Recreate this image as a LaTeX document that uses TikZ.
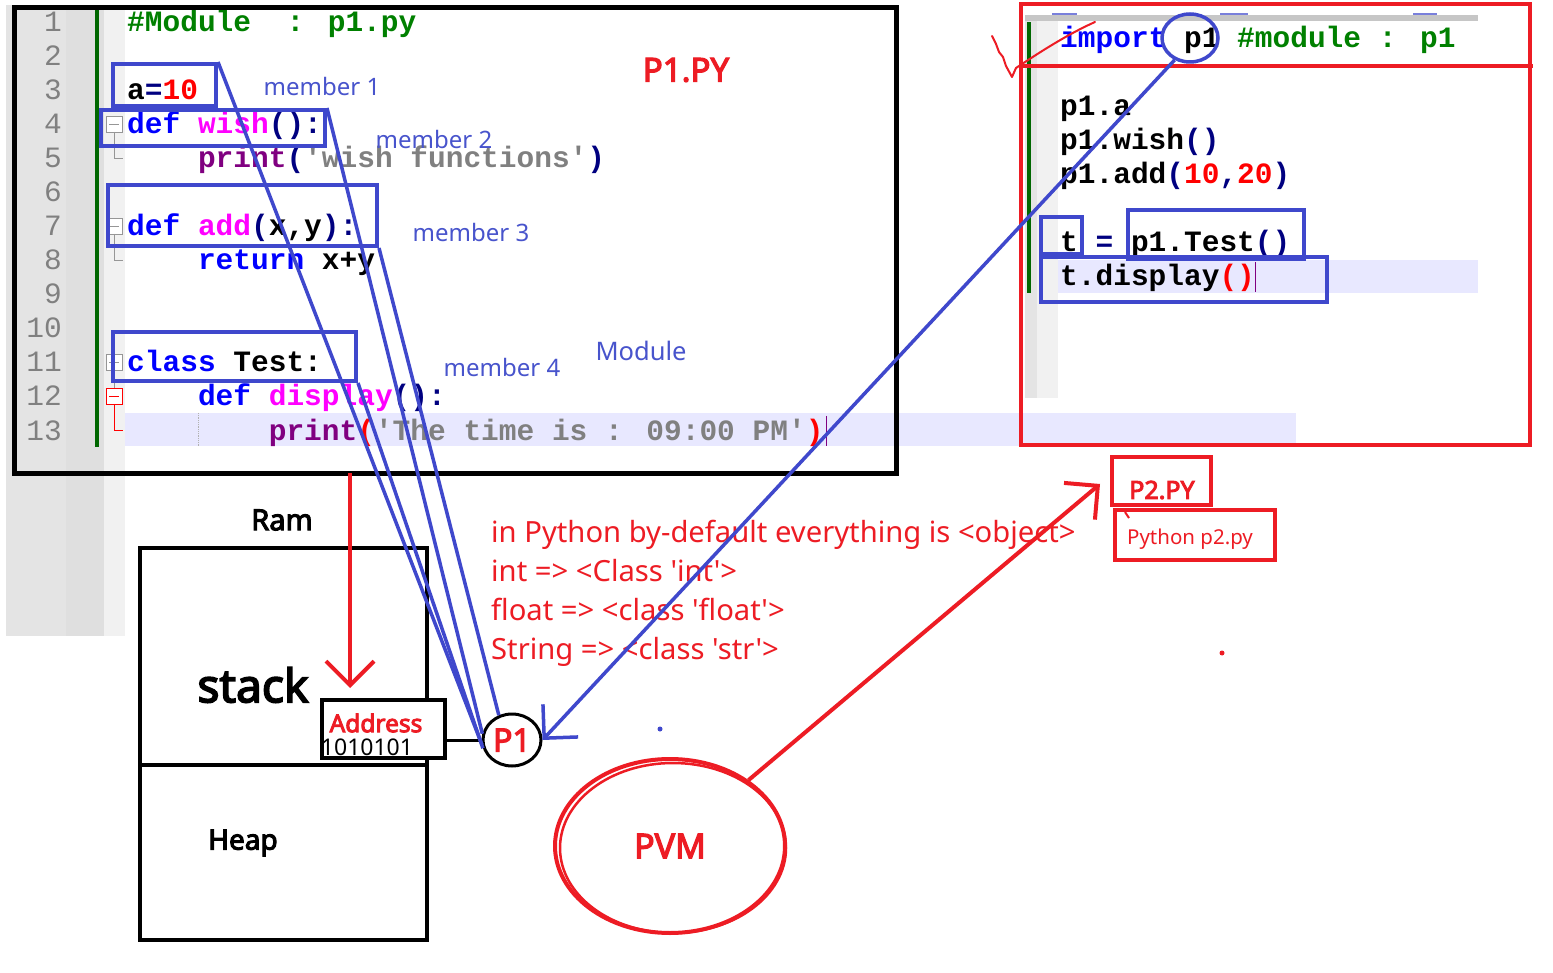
\documentclass[tikz,border=0pt]{standalone}
\usepackage{fontspec}
\setmainfont{Noto Sans}[Ligatures=TeXOff, AutoFakeBold=3.6]
\newfontfamily\codefont{Liberation Mono}[Ligatures=TeXOff]
\usetikzlibrary{arrows.meta,shapes.geometric,fit}
\definecolor{bbox}{RGB}{63,72,204}
\definecolor{blab}{RGB}{72,84,204}
\definecolor{pred}{RGB}{237,28,36}
\definecolor{cblue}{RGB}{0,0,255}
\definecolor{cmag}{RGB}{255,0,255}
\definecolor{cpur}{RGB}{128,0,128}
\definecolor{cnavy}{RGB}{0,0,128}
\definecolor{cgray}{RGB}{128,128,128}
\definecolor{cgreen}{RGB}{0,128,0}
\definecolor{cred}{RGB}{255,0,0}
\definecolor{lav}{RGB}{232,232,255}
\definecolor{gutA}{RGB}{228,228,228}
\definecolor{gutB}{RGB}{223,223,223}
\definecolor{gutC}{RGB}{241,241,241}
\definecolor{foldc}{RGB}{150,150,150}
\newcommand{\kwB}[1]{\textcolor{cblue}{#1}}
\newcommand{\kwM}[1]{\textcolor{cmag}{#1}}
\newcommand{\kwP}[1]{\textcolor{cpur}{#1}}
\newcommand{\kwN}[1]{\textcolor{cnavy}{#1}}
\newcommand{\kwG}[1]{\textcolor{cgray}{#1}}
\newcommand{\kwR}[1]{\textcolor{cred}{#1}}
\newcommand{\kwC}[1]{\textcolor{cgreen}{#1}}
\begin{document}
\begin{tikzpicture}[x=1pt,y=-1pt,
  code/.style={anchor=base west, inner sep=0pt, font=\codefont\bfseries\fontsize{29.5}{34}\selectfont},
  lnum/.style={anchor=base east, inner sep=0pt, text=cgray, font=\codefont\fontsize{29.5}{34}\selectfont},
  bluebx/.style={draw=bbox, line width=4pt, inner sep=0pt},
  redbx/.style={draw=pred, line width=4pt, inner sep=0pt},
  bluel/.style={draw=bbox, line width=3.5pt},
  redl/.style={draw=pred, line width=4pt},
  blabel/.style={text=blab, inner sep=0pt, font=\fontsize{24}{28}\selectfont},
  redtxt/.style={text=pred, anchor=base west, inner sep=0pt, font=\fontsize{29.2}{32}\selectfont},
  boldlab/.style={inner sep=0pt, font=\bfseries\fontsize{28}{32}\selectfont},
  foldbox/.style={draw=foldc, line width=0.8pt, fill=white},
  barb/.style={-{Straight Barb[length=24pt,width=48pt]}}
]
\useasboundingbox (0,0) rectangle (1553,973);
\fill[white] (0,0) rectangle (1553,973);
% ---------- left editor background
\fill[gutA] (6,5) rectangle (66,636);
\fill[gutB] (66,5) rectangle (104,636);
\fill[gutC] (104,5) rectangle (125,636);
\fill[lav] (125,413) rectangle (1296,446);
\fill[cgreen!80!black] (95,10) rectangle (99,447);
\draw[gray!60, densely dotted, line width=0.8pt] (198,413) -- (198,446);
% line numbers
\foreach \n in {1,...,13}{
  \node[lnum] at (62,{32+34*(\n-1)}) {\n};
}
% fold markers
\draw[foldbox] (106,116) rectangle (122,132);
\draw[foldc, line width=0.8pt] (109,124) -- (119,124) (114,132) -- (114,158) -- (123,158);
\draw[foldbox] (106,218) rectangle (122,234);
\draw[foldc, line width=0.8pt] (109,226) -- (119,226) (114,234) -- (114,260) -- (123,260);
\draw[foldbox] (106,354) rectangle (122,370);
\draw[foldc, line width=0.8pt] (109,362) -- (119,362) (114,370) -- (114,388);
\draw[draw=cred, line width=0.8pt, fill=white] (106,388) rectangle (122,404);
\draw[cred, line width=0.8pt] (109,396) -- (119,396) (114,404) -- (114,430) -- (123,430);
% code
\node[code] (l1) at (127,32) {\kwC{\#Module~~: p1.py}};
\node[code] (l3) at (127,100) {a\kwN{=}\kwR{10}};
\node[code] (l4) at (127,134) {\kwB{def} \kwM{wish}\kwN{():}};
\node[code] (l5) at (197.8,168) {\kwP{print}\kwN{(}\kwG{'wish functions'}\kwN{)}};
\node[code] (l7) at (127,236) {\kwB{def} \kwM{add}\kwN{(}x,y\kwN{):}};
\node[code] (l8) at (197.8,270) {\kwB{return} x+y};
\node[code] (l11) at (127,372) {\kwB{class} Test:};
\node[code] (l12) at (197.8,406) {\kwB{def} \kwM{display}\kwN{():}};
\node[code] (l13) at (268.6,440) {\kwP{print}\kwR{(}\kwG{'The time is : 09:00 PM'}\kwR{)}};
\draw[cpur, line width=1pt] (826,416) -- (826,446);
% frame
\draw[line width=5pt] (14.5,8) rectangle (896.5,473.5);
% ---------- right editor
\fill[gutA] (1025,20) rectangle (1037,398);
\fill[gutC] (1037,20) rectangle (1058,398);
\fill[gray!45] (1025,15) rectangle (1478,21);
\draw[bbox!70, line width=1.2pt] (1052,14) -- (1077,14) (1220,14) -- (1248,14) (1413,14) -- (1437,14);
\fill[lav] (1058,260) rectangle (1478,293);
\fill[cgreen!80!black] (1027,22) rectangle (1031,293);
\node[code] (r1) at (1060,48) {\kwB{import} p1 \kwC{\#module : p1}};
\node[code] (r3) at (1060,116) {p1.a};
\node[code] (r4) at (1060,150) {p1.wish\kwN{()}};
\node[code] (r5) at (1060,184) {p1.add\kwN{(}\kwR{10}\kwN{,}\kwR{20}\kwN{)}};
\node[code] (r7) at (1060,252) {t \kwN{=} p1.Test\kwN{()}};
\node[code] (r8) at (1060,286) {t.display\kwR{()}};
\draw[cpur, line width=1pt] (1255,262) -- (1255,292);
\draw[redl] (1021,4) rectangle (1530,445);
\draw[redl] (1021,66) -- (1533,66);
% check mark
\draw[pred, line width=2pt, line cap=round, line join=round]
  (992,36) -- (996,44) -- (999,52) -- (1003,57) -- (1006,66) -- (1012,77) -- (1016,68)
  .. controls (1040,52) and (1068,34) .. (1095,22);
% ---------- blue boxes
\node[bluebx, fit={(113,64) (216,106)}] (ba) {};
\node[bluebx, fit={(101,110) (325,146)}] (bw) {};
\node[bluebx, fit={(108,185) (377,246)}] (bd) {};
\node[bluebx, fit={(113,332) (356,381)}] (bc) {};
\node[bluebx, fit={(1041,217) (1082,254)}] (bt) {};
\node[bluebx, fit={(1128,210) (1304,259)}] (bp) {};
\node[bluebx, fit={(1041,257) (1327,302)}] (bdis) {};
\node[draw=bbox, line width=3.5pt, ellipse, minimum width=56pt, minimum height=48pt, inner sep=0pt] (imp) at (1190,38) {};
% blue labels
\node[blabel] (m1) at (322,87) {member 1};
\node[blabel] (m2) at (434,140) {member 2};
\node[blabel] (m3) at (471,233) {member 3};
\node[blabel] (m4) at (502,368) {member 4};
\node[blabel, font=\fontsize{25.5}{28}\selectfont] (mod) at (641,351) {Module};
\node[text=pred, inner sep=0pt, font=\bfseries\fontsize{33}{38}\selectfont] (p1py) at (686,70) {P1.PY};
% ---------- RAM
\node[boldlab, font=\bfseries\fontsize{29}{34}\selectfont] (ram) at (282,520) {Ram};
\node[draw, line width=4pt, inner sep=0pt, fit={(140,548) (427,765)}] (stk) {};
\node[draw, line width=4pt, inner sep=0pt, fit={(140,765) (427,940)}] (hp) {};
\node[boldlab, font=\bfseries\fontsize{46}{50}\selectfont] (stacklab) at (253,685) {stack};
\node[boldlab] (heaplab) at (243,843) {Heap};
\node[draw, line width=4pt, inner sep=0pt, fill=white, fit={(322,700) (445,758)}] (addr) {};
\node[text=pred, inner sep=0pt, font=\bfseries\fontsize{24.5}{28}\selectfont] (addrlab) at (376,723) {Address};
\node[inner sep=0pt, font=\fontsize{23}{24}\selectfont] (bits) at (367,747) {1010101};
\node[draw, line width=3pt, ellipse, minimum width=58pt, minimum height=52pt, inner sep=0pt, text=pred, font=\bfseries\fontsize{32}{34}\selectfont] (p1c) at (512,740) {P1};
\draw[line width=3pt] (p1c.west) -- (p1c.west -| addr.east);
% red arrow from frame to address
\coordinate (rs) at (350,473);
\coordinate (rt) at (350,688);
\draw[redl, barb] (rs) -- (rt);
% ---------- red text
\node[redtxt] (t1) at (491,542) {in Python by-default everything is <object>};
\node[redtxt] (t2) at (491,581) {int => <Class 'int'>};
\node[redtxt] (t3) at (491,620) {float => <class 'float'>};
\node[redtxt] (t4) at (491,659) {String => <class 'str'>};
% ---------- P2 boxes
\node[redbx, fit={(1112,457) (1211,505)}] (p2box) {};
\node[text=pred, inner sep=0pt, font=\bfseries\fontsize{25}{28}\selectfont] (p2lab) at (1162,490) {P2.PY};
\node[redbx, fit={(1115,510) (1275,560)}] (runbox) {};
\node[text=pred, inner sep=0pt, font=\fontsize{20.5}{24}\selectfont] (runlab) at (1190,539) {Python p2.py};
\draw[pred, line width=2pt] (1125,512) -- (1129,518);
% ---------- PVM
\node[draw=pred, line width=4pt, ellipse, minimum width=230pt, minimum height=174pt, inner sep=0pt, text=pred, font=\bfseries\fontsize{34}{38}\selectfont] (pvm) at (670,846) {PVM};
\draw[pred, line width=2.5pt] (673,848) ellipse (113pt and 85pt);
\coordinate (p2tip) at (1100,484);
\draw[redl, barb] (pvm.40) -- (p2tip);
% ---------- blue connectors
\draw[bluel] (ba.north east) -- (p1c.189);
\draw[bluel] (bw.north east) -- (p1c.168);
\draw[bluel] (bd.south east) -- (p1c.118);
\draw[bluel] (bc.south east) -- (p1c.196);
\draw[bluel, barb] (imp.235) -- (p1c.east);
% stray dots
\fill[bbox] (660,729) circle (2.5pt);
\fill[pred] (1222,653) circle (2.5pt);
\end{tikzpicture}
\end{document}
